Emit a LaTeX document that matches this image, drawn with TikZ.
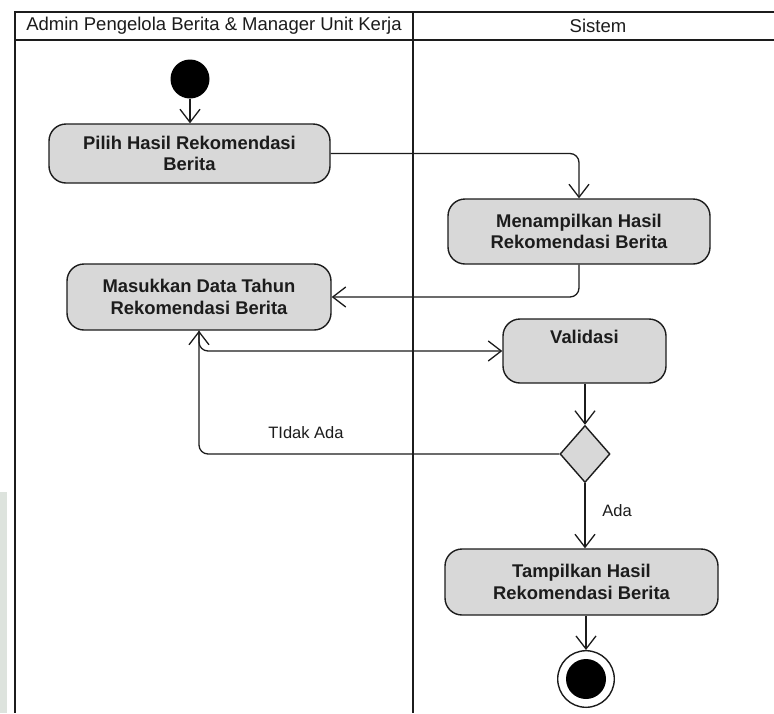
\documentclass[tikz,border=0pt]{standalone}
\usepackage{fontspec}
\setmainfont{Liberation Sans}
\usetikzlibrary{arrows.meta,shapes.geometric}

\definecolor{actfill}{RGB}{216,216,216}
\definecolor{inkc}{RGB}{28,28,28}
\definecolor{edgestrip}{RGB}{221,227,221}

\tikzset{
  x=1pt, y=-1pt,
  lane/.style={line width=2.6pt, draw=inkc},
  activity/.style={draw=inkc, line width=1.4pt, fill=actfill, rounded corners=17pt,
    align=center, inner sep=0pt, text=inkc,
    font=\fontsize{18.4}{21.5}\selectfont\bfseries},
  decision/.style={diamond, draw=inkc, line width=1.4pt, fill=actfill, inner sep=0pt,
    minimum width=50pt, minimum height=57pt},
  flow/.style={draw=inkc, line width=1.3pt, rounded corners=9pt,
    -{Straight Barb[length=13pt,width=20pt,line width=1.3pt]}},
  guard/.style={text=inkc, font=\fontsize{16.5}{19}\selectfont},
  headtext/.style={text=inkc, font=\fontsize{18.5}{21}\selectfont},
}

\begin{document}
\begin{tikzpicture}
  \useasboundingbox (0,0) rectangle (774,713);
  \fill[white] (0,0) rectangle (774,713);
  \fill[edgestrip] (0,492) rectangle (7,713);

  % swimlane frame
  \draw[lane, line width=2.2pt] (15,12) -- (774,12);
  \draw[lane] (15,40) -- (774,40);
  \draw[lane] (15,11) -- (15,713);
  \draw[lane] (413,11) -- (413,713);
  \node[headtext] (laneA) at (214,26) {Admin Pengelola Berita \& Manager Unit Kerja};
  \node[headtext] (laneB) at (598,26) {Sistem};

  % nodes
  \node[circle, fill=black, minimum size=39pt, inner sep=0pt] (start) at (190,79) {};
  \node[activity, minimum width=281pt, minimum height=59pt] (pilih) at (189.5,153.5)
    {Pilih Hasil Rekomendasi\\Berita};
  \node[activity, minimum width=262pt, minimum height=65pt] (tampilA) at (579,231.5)
    {Menampilkan Hasil\\Rekomendasi Berita};
  \node[activity, minimum width=264pt, minimum height=66pt] (masuk) at (199,297)
    {Masukkan Data Tahun\\Rekomendasi Berita};
  \node[activity, minimum width=163pt, minimum height=64pt] (valid) at (584.5,351)
    {Validasi\\\strut};
  \node[decision] (cek) at (585,454) {};
  \node[activity, minimum width=273pt, minimum height=66pt] (tampilB) at (581.5,582)
    {Tampilkan Hasil\\Rekomendasi Berita};
  \node[circle, draw=inkc, line width=1.4pt, fill=white, minimum size=56.6pt, inner sep=0pt] (stop) at (586,679) {};
  \node[circle, fill=black, minimum size=40pt, inner sep=0pt] (stopdot) at (stop.center) {};

  % connectors
  \draw[flow] (start.south) -- (start.south |- pilih.north);
  \draw[flow] (pilih.east) -| (tampilA.north);
  \draw[flow] (tampilA.south) |- (masuk.east);
  \draw[flow] (masuk.south) |- (valid.west);
  \draw[flow] (valid.south -| cek.north) -- (cek.north);
  \draw[flow] (cek.west) -| (masuk.south);
  \draw[flow] (cek.south) -- (cek.south |- tampilB.north);
  \draw[flow] (tampilB.south -| stop.north) -- (stop.north);

  % guards
  \node[guard] (tidak) at (306,433) {TIdak Ada};
  \node[guard] (ada) at (617,511) {Ada};
\end{tikzpicture}
\end{document}
